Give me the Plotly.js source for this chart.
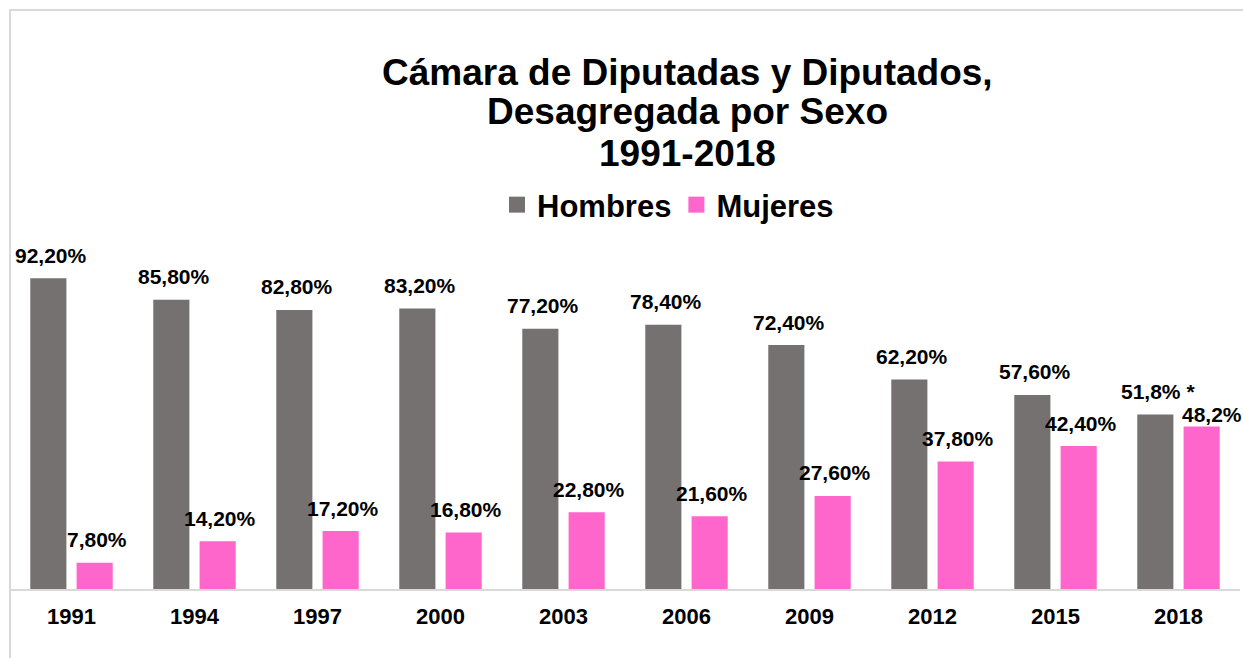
<!DOCTYPE html>
<html>
<head>
<meta charset="utf-8">
<script src="https://cdn.plot.ly/plotly-3.0.1.min.js"></script>
<style>html,body{margin:0;padding:0;background:#fff;}#chart{width:1243px;height:658px;}</style>
</head>
<body>
<div id="chart"></div>
<script>
const years = ['1991','1994','1997','2000','2003','2006','2009','2012','2015','2018'];
const hombres = [92.2, 85.8, 82.8, 83.2, 77.2, 78.4, 72.4, 62.2, 57.6, 51.8];
const mujeres = [7.8, 14.2, 17.2, 16.8, 22.8, 21.6, 27.6, 37.8, 42.4, 48.2];
const hombresLabels = ['92,20%','85,80%','82,80%','83,20%','77,20%','78,40%','72,40%','62,20%','57,60%','51,8% *'];
const mujeresLabels = ['7,80%','14,20%','17,20%','16,80%','22,80%','21,60%','27,60%','37,80%','42,40%','48,2%'];
const titleLines = ['Cámara de Diputadas y Diputados,', 'Desagregada por Sexo', '1991-2018'];
const seriesNames = ['Hombres', 'Mujeres'];

const FONT = 'Liberation Sans, Arial, Helvetica, sans-serif';
const GREY = '#767171';
const PINK = '#FF66CC';

const traces = [
  {type:'bar', name:seriesNames[0], x:years, y:hombres, marker:{color:GREY}, hoverinfo:'none', showlegend:false},
  {type:'bar', name:seriesNames[1], x:years, y:mujeres, marker:{color:PINK}, hoverinfo:'none', showlegend:false},
  {type:'scatter', mode:'markers', name:seriesNames[0], x:[null], y:[null], marker:{symbol:'square', size:17, color:GREY}, hoverinfo:'none'},
  {type:'scatter', mode:'markers', name:seriesNames[1], x:[null], y:[null], marker:{symbol:'square', size:17, color:PINK}, hoverinfo:'none'}
];

const PLOT_H = 337;
const px2paper = (pxFromTop) => 1 + (252 - pxFromTop) / PLOT_H;

const annotations = [];
const last = years.length - 1;
years.forEach((yr,i)=>{
  annotations.push({x:i, y:hombres[i], text:hombresLabels[i], xref:'x', yref:'y', showarrow:false,
    xanchor:'center', yanchor:'middle', xshift:-21, yshift:23,
    font:{family:FONT, size:21, color:'#000', weight:'bold'}});
  // the last women's label sits lower and further right, as in the original
  annotations.push({x:i, y:mujeres[i], text:mujeresLabels[i], xref:'x', yref:'y', showarrow:false,
    xanchor:(i === last ? 'left' : 'center'), yanchor:'middle',
    xshift:(i === last ? 1 : 25), yshift:(i === last ? 12 : 23),
    font:{family:FONT, size:21, color:'#000', weight:'bold'}});
});
const titleY = [72, 112, 153];
titleLines.forEach((t,i)=>{
  annotations.push({text:t, xref:'paper', yref:'paper', x:(687-10)/1230, y:px2paper(titleY[i]),
    xanchor:'center', yanchor:'middle', showarrow:false,
    font:{family:FONT, size:37, color:'#000', weight:'bold'}});
});

const layout = {
  width:1243, height:658,
  margin:{l:10, r:3, t:252, b:69},
  paper_bgcolor:'#fff', plot_bgcolor:'#fff',
  font:{family:FONT, color:'#000'},
  barmode:'group',
  bargap:0.247,
  bargroupgap:0.22,
  showlegend:true,
  legend:{
    orientation:'h', x:(668-10)/1230, xanchor:'center', y:px2paper(205), yanchor:'middle',
    font:{family:FONT, size:31, color:'#000', weight:'bold'},
    itemclick:false, itemdoubleclick:false, traceorder:'normal'
  },
  xaxis:{
    type:'category', range:[-0.5, 9.5],
    showline:true, linecolor:'#d9d9d9', linewidth:2,
    showgrid:false, zeroline:false, ticks:'',
    tickfont:{family:FONT, size:22, color:'#000', weight:'bold'},
    ticklabelstandoff:7,
    fixedrange:true
  },
  yaxis:{
    range:[0,100], visible:false, showgrid:false, zeroline:false, fixedrange:true
  },
  annotations:annotations,
  shapes:[
    {type:'rect', xref:'paper', yref:'paper', x0:0, x1:1.05, y0:-0.3, y1:px2paper(10),
     line:{color:'#d9d9d9', width:2}, fillcolor:'rgba(0,0,0,0)', layer:'below'}
  ]
};

Plotly.newPlot('chart', traces, layout, {displayModeBar:false, staticPlot:true});
</script>
</body>
</html>
